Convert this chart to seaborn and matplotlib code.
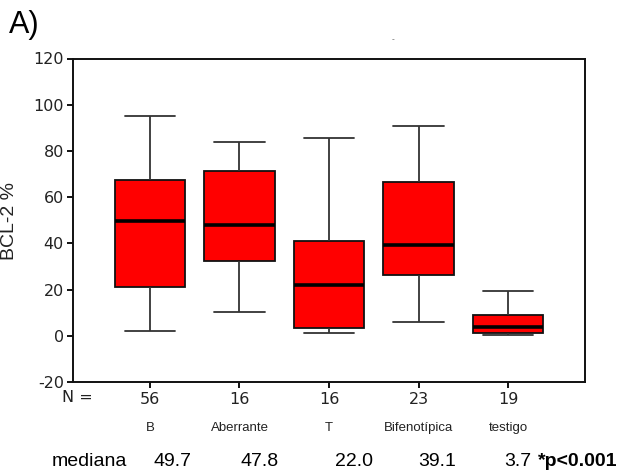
import numpy as np
import pandas as pd
import matplotlib
matplotlib.use("Agg")
import matplotlib.pyplot as plt
import matplotlib.transforms as mtransforms
import seaborn as sns

# Group summaries: whisker ends, quartiles and medians of BCL-2 %
grupos = ["B", "Aberrante", "T", "Bifenotípica", "testigo"]
n_casos = [56, 16, 16, 23, 19]
bigote_inf = [2.0, 10.2, 1.0, 6.0, 0.3]
cuartil_1 = [21.1, 32.4, 3.4, 26.1, 1.3]
mediana = [49.7, 47.8, 22.0, 39.1, 3.7]
cuartil_3 = [67.4, 71.1, 40.9, 66.7, 9.2]
bigote_sup = [95.0, 84.0, 85.7, 91.0, 19.4]
y_ticks = [-20, 0, 20, 40, 60, 80, 100, 120]

# Five-number summary per group; with whis=(0, 100) the box and whiskers
# reproduce these values exactly.
filas = []
for g, lo, q1, md, q3, hi in zip(grupos, bigote_inf, cuartil_1, mediana,
                                 cuartil_3, bigote_sup):
    for v in (lo, q1, md, q3, hi):
        filas.append({"grupo": g, "valor": v})
df = pd.DataFrame(filas)

sns.set_style("ticks")
plt.rcParams["font.family"] = ["Liberation Sans", "DejaVu Sans"]

W, H = 636, 472
fig = plt.figure(figsize=(W / 100, H / 100), dpi=100)
ax_l, ax_r, ax_t, ax_b = 73, 585, 58.5, 382
ax = fig.add_axes([ax_l / W, 1 - ax_b / H, (ax_r - ax_l) / W, (ax_b - ax_t) / H])

box_w = 0.79
sns.boxplot(
    data=df, x="grupo", y="valor", order=grupos, ax=ax,
    whis=(0, 100), width=box_w, color="#ff0000", saturation=1,
    linecolor="#111111", linewidth=1.1, fliersize=0,
    boxprops=dict(facecolor="#ff0000", edgecolor="#111111", linewidth=1.3),
    medianprops=dict(color="#000000", linewidth=2.6),
    whiskerprops=dict(color="#333333", linewidth=1.3),
    capprops=dict(color="#333333", linewidth=1.3),
    capwidths=0.72 * box_w,
)

ax.set_xlim(-0.86, len(grupos) - 1 + 0.86)
ax.set_ylim(-20, 120)
ax.set_yticks(y_ticks)
ax.set_yticklabels([str(t) for t in y_ticks], fontsize=11.5,
                   family="DejaVu Sans", color="#222222")
ax.set_xticks(range(len(grupos)))
ax.set_xticklabels([str(n) for n in n_casos], fontsize=11.5,
                   family="DejaVu Sans", color="#222222")
ax.set_xlabel("")
ax.set_ylabel("")
ax.tick_params(axis="both", direction="out", length=4, width=1.4,
               color="#111111")
ax.tick_params(axis="x", pad=3)
ax.tick_params(axis="y", pad=2.5)
for s in ax.spines.values():
    s.set_visible(True)
    s.set_color("#111111")
    s.set_linewidth(1.4)

# "N =" prefix before the counts row
fig.text(62 / W, 1 - 397 / H, "N =", fontsize=11.5, family="DejaVu Sans",
         color="#222222", ha="left", va="center")

# Group names under the counts
trans = mtransforms.blended_transform_factory(ax.transData, fig.transFigure)
for i, g in enumerate(grupos):
    ax.text(i, 1 - 428 / H, g, transform=trans, fontsize=9.5,
            ha="center", va="center", color="#222222")

# Median row
fig.text(52 / W, 1 - 461 / H, "mediana", fontsize=14, ha="left",
         va="center", color="black")
med_x = [172, 260, 354, 437, 518]
for x, v in zip(med_x, mediana):
    fig.text(x / W, 1 - 461 / H, f"{v:.1f}", fontsize=14, ha="center",
             va="center", color="black")
fig.text(538 / W, 1 - 461 / H, "*p<0.001", fontsize=14, fontweight="bold",
         ha="left", va="center", color="black")

# Panel letter and axis title
fig.text(9 / W, 1 - 10 / H, "A)", fontsize=22, ha="left", va="top",
         color="black")
fig.text(1 / W, 1 - 221 / H, "BCL-2 %", fontsize=14, rotation=90,
         ha="left", va="center", color="#222222")
fig.text(393 / W, 1 - 40 / H, "-", fontsize=6, ha="center", va="center",
         color="#555555")

fig.savefig("out.png", dpi=100)
